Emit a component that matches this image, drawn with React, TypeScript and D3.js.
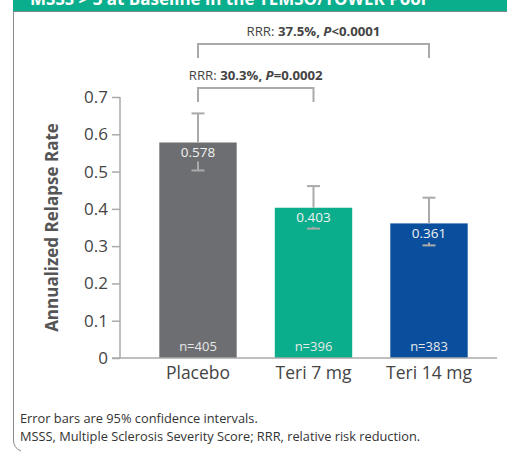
import { useEffect, useRef } from "react";
import * as d3 from "d3";

// data
const categories = ["Placebo", "Teri 7 mg", "Teri 14 mg"];
const arrValues = [0.578, 0.403, 0.361];
const ciLower = [0.503, 0.347, 0.302];
const ciUpper = [0.656, 0.461, 0.43];
const nLabels = ["n=405", "n=396", "n=383"];
const barColors = ["#6d6e71", "#0aae8c", "#0a4f9e"];
const yTicks = [0, 0.1, 0.2, 0.3, 0.4, 0.5, 0.6, 0.7];

// comparisons: [from index, to index, rrr, p text]
const comparisons: [number, number, string, string][] = [
  [0, 2, "37.5%,", "<0.0001"],
  [0, 1, "30.3%,", "=0.0002"],
];

const FONT = "'Open Sans', 'Noto Sans', sans-serif";

export default function App() {
  const ref = useRef<SVGSVGElement>(null);

  useEffect(() => {
    const svg = d3.select(ref.current);
    svg.selectAll("*").remove();

    const width = 507;

    // header band (cut off at top of picture)
    svg.append("rect").attr("x", 13).attr("y", 0).attr("width", width - 13).attr("height", 11).attr("fill", "#0aae8c");
    svg.append("line")
      .attr("x1", 13).attr("x2", width).attr("y1", 11.5).attr("y2", 11.5)
      .attr("stroke", "#7a8a86").attr("stroke-width", 1);
    svg.append("text")
      .attr("x", 30).attr("y", 5)
      .attr("fill", "#fff").attr("font-family", FONT).attr("font-weight", 700).attr("font-size", 17)
      .text("MSSS > 3 at Baseline in the TEMSO/TOWER Pool");

    // left frame with rounded bottom corner
    svg.append("path")
      .attr("d", "M13.5,11 L13.5,440 Q13.5,448 21,451")
      .attr("fill", "none").attr("stroke", "#8a8a8a").attr("stroke-width", 1);

    const x = d3.scaleBand().domain(categories).range([140.25, 486.75]).paddingInner(0.33).paddingOuter(0.165);
    const y = d3.scaleLinear().domain([0, 0.7]).range([358, 97]);
    const cx = (i: number) => (x(categories[i]) as number) + x.bandwidth() / 2;

    const g = svg.append("g");

    // bars
    g.selectAll(".bar")
      .data(arrValues)
      .join("rect")
      .attr("class", "bar")
      .attr("x", (_, i) => x(categories[i]) as number)
      .attr("y", (d) => y(d))
      .attr("width", x.bandwidth())
      .attr("height", (d) => y(0) - y(d))
      .attr("fill", (_, i) => barColors[i]);

    // error bars (upper part above the bar, lower part below the value label)
    const errColor = "#aaaaaa";
    arrValues.forEach((v, i) => {
      const c = cx(i);
      const top = y(v);
      const hi = y(ciUpper[i]);
      const lo = y(ciLower[i]);
      g.append("line").attr("x1", c).attr("x2", c).attr("y1", top).attr("y2", hi)
        .attr("stroke", errColor).attr("stroke-width", 2);
      g.append("line").attr("x1", c - 6.5).attr("x2", c + 6.5).attr("y1", hi).attr("y2", hi)
        .attr("stroke", errColor).attr("stroke-width", 2);
      const stubStart = Math.min(top + 19, lo);
      g.append("line").attr("x1", c).attr("x2", c).attr("y1", stubStart).attr("y2", lo)
        .attr("stroke", errColor).attr("stroke-width", 2);
      g.append("line").attr("x1", c - 6.5).attr("x2", c + 6.5).attr("y1", lo).attr("y2", lo)
        .attr("stroke", errColor).attr("stroke-width", 2);

      // value label
      g.append("text")
        .attr("x", c).attr("y", top + 14.5)
        .attr("text-anchor", "middle")
        .attr("fill", "#f2f2f2").attr("font-family", FONT).attr("font-size", 13.5)
        .text(v.toFixed(3));

      // n label
      g.append("text")
        .attr("x", c).attr("y", y(0) - 7)
        .attr("text-anchor", "middle")
        .attr("fill", "#e8e8e8").attr("font-family", FONT).attr("font-size", 13)
        .text(nLabels[i]);
    });

    // y axis
    const yAxis = g.append("g")
      .attr("transform", "translate(120,0)")
      .call(d3.axisLeft(y).tickValues(yTicks).tickSize(8).tickPadding(4)
        .tickFormat((d) => (+d === 0 ? "0" : d3.format(".1f")(+d))));
    yAxis.select(".domain").attr("stroke", "#aaa").attr("stroke-width", 1.5).attr("d", `M0,${y(0)}V${y(0.7)}`);
    yAxis.selectAll(".tick line").attr("stroke", "#aaa").attr("stroke-width", 1.5);
    yAxis.selectAll(".tick text").attr("fill", "#444").attr("font-family", FONT).attr("font-size", 17);

    // x axis line
    g.append("line").attr("x1", 112).attr("x2", 497).attr("y1", y(0)).attr("y2", y(0))
      .attr("stroke", "#aaa").attr("stroke-width", 1.5);

    // category labels
    g.selectAll(".cat")
      .data(categories)
      .join("text")
      .attr("class", "cat")
      .attr("x", (_, i) => cx(i))
      .attr("y", 379)
      .attr("text-anchor", "middle")
      .attr("fill", "#444").attr("font-family", FONT).attr("font-size", 17.5)
      .text((d) => d);

    // y axis title
    svg.append("text")
      .attr("transform", `translate(58,${(y(0) + y(0.7)) / 2}) rotate(-90)`)
      .attr("text-anchor", "middle")
      .attr("fill", "#555").attr("font-family", FONT).attr("font-weight", 700).attr("font-size", 17)
      .text("Annualized Relapse Rate");

    // comparison brackets
    const bracketY = [44, 88];
    const bracketEnd = [58, 102];
    comparisons.forEach(([a, b, rrr, p], k) => {
      const x1 = cx(a);
      const x2 = cx(b);
      const by = bracketY[k];
      g.append("path")
        .attr("d", `M${x1},${bracketEnd[k]}V${by}H${x2}V${bracketEnd[k]}`)
        .attr("fill", "none").attr("stroke", "#aaa").attr("stroke-width", 2);
      const t = g.append("text")
        .attr("x", (x1 + x2) / 2).attr("y", by - 8)
        .attr("text-anchor", "middle")
        .attr("fill", "#444").attr("font-family", FONT).attr("font-size", 13.2);
      t.append("tspan").text("RRR: ");
      t.append("tspan").attr("font-weight", 700).text(rrr + " ");
      t.append("tspan").attr("font-weight", 700).attr("font-style", "italic").text("P");
      t.append("tspan").attr("font-weight", 700).text(p);
    });

    // footnotes
    const notes = ["Error bars are 95% confidence intervals.", "MSSS, Multiple Sclerosis Severity Score; RRR, relative risk reduction."];
    notes.forEach((n, i) => {
      svg.append("text")
        .attr("x", 20).attr("y", 423 + i * 17.5)
        .attr("fill", "#333").attr("font-family", FONT).attr("font-size", 12.8)
        .text(n);
    });
  }, []);

  return (
    <svg
      ref={ref}
      width={507}
      height={452}
      style={{ position: "absolute", left: 0, top: 0, background: "#fff" }}
    />
  );
}
